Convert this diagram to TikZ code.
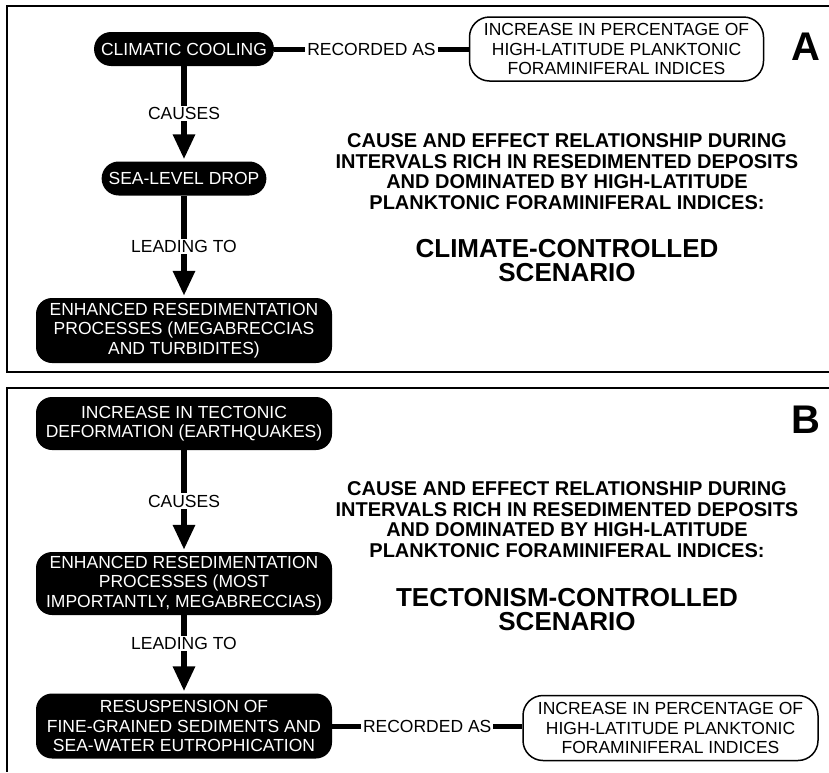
\documentclass[tikz,border=0pt]{standalone}
\usepackage{fontspec}
\setmainfont{Liberation Sans}
\usepackage{tikz}
\usetikzlibrary{arrows.meta}

\begin{document}
\begin{tikzpicture}[x=1pt,y=-1pt,
	bx/.style={fill=black, text=white, align=center, inner sep=0pt, minimum width=296pt, rounded corners=16pt, font=\fontsize{17.5}{19.5}\selectfont},
	pill/.style={bx, minimum width=0pt, inner xsep=7pt, minimum height=34pt, rounded corners=17pt},
	wb/.style={draw, line width=1.5pt, align=center, inner sep=0pt, minimum width=294pt, minimum height=64pt, rounded corners=20pt, font=\fontsize{17.5}{19.5}\selectfont},
	lbl/.style={fill=white, inner xsep=2pt, inner ysep=1.5pt, font=\fontsize{17.5}{19.5}\selectfont},
	cs/.style={line width=6pt, -{Triangle[width=21pt,length=25pt]}, shorten >=2pt},
	rec/.style={line width=5pt},
	ttl/.style={align=center, font=\fontsize{20}{20.5}\selectfont\bfseries},
	scn/.style={align=center, font=\fontsize{26}{24}\selectfont\bfseries},
	let/.style={font=\fontsize{40}{40}\selectfont\bfseries},
	pnl/.style={line width=1.5pt}]
\useasboundingbox (0,0) rectangle (829,772);

% panels
\draw[pnl] (829,6) -- (7,6) -- (7,372) -- (829,372);
\draw[pnl] (829,388) -- (7,388) -- (7,772);

% A
\node (cool) at (184,49) [pill] {CLIMATIC COOLING};
\node (sea) at (184,178.5) [pill] {SEA-LEVEL DROP};
\node (enh) at (184,330.5) [bx, minimum height=65pt] {ENHANCED RESEDIMENTATION\\PROCESSES (MEGABRECCIAS\\AND TURBIDITES)};
\node (inc) at (616.5,49) [wb] {INCREASE IN PERCENTAGE OF\\HIGH-LATITUDE PLANKTONIC\\FORAMINIFERAL INDICES};
\node (la) at (806,47) [let] {A};

\draw[rec] (cool) -- node[lbl] {RECORDED AS} (inc);
\draw[cs] (cool) -- node[lbl] {CAUSES} (sea);
\draw[cs] (sea) -- node[lbl] {LEADING TO} (enh);

% B
\node (tec) at (184,423.5) [bx, minimum height=53pt] {INCREASE IN TECTONIC\\DEFORMATION (EARTHQUAKES)};
\node (enh2) at (184,583.5) [bx, minimum height=63pt] {ENHANCED RESEDIMENTATION\\PROCESSES (MOST\\IMPORTANTLY, MEGABRECCIAS)};
\node (res) at (184,726) [bx, minimum height=65pt] {RESUSPENSION OF\\FINE-GRAINED SEDIMENTS AND\\SEA-WATER EUTROPHICATION};
\node (inc2) at (670.5,728) [wb, minimum width=295pt, minimum height=65pt] {INCREASE IN PERCENTAGE OF\\HIGH-LATITUDE PLANKTONIC\\FORAMINIFERAL INDICES};
\node (lb) at (806,420) [let] {B};

\draw[cs] (tec) -- node[lbl] {CAUSES} (enh2);
\draw[cs] (enh2) -- node[lbl, pos=0.36] {LEADING TO} (res);
\draw[rec] (res) -- node[lbl] {RECORDED AS} (res -| inc2.west);

\foreach \p/\y in {1/171.5, 2/519.5} {
\node (ttl\p) at (567,\y) [ttl] {CAUSE AND EFFECT RELATIONSHIP DURING\\INTERVALS RICH IN RESEDIMENTED DEPOSITS\\AND DOMINATED BY HIGH-LATITUDE\\PLANKTONIC FORAMINIFERAL INDICES:};
}
\node (scn1) at (567,261) [scn] {CLIMATE-CONTROLLED\\SCENARIO};
\node (scn2) at (567,610) [scn] {TECTONISM-CONTROLLED\\SCENARIO};
\end{tikzpicture}
\end{document}
